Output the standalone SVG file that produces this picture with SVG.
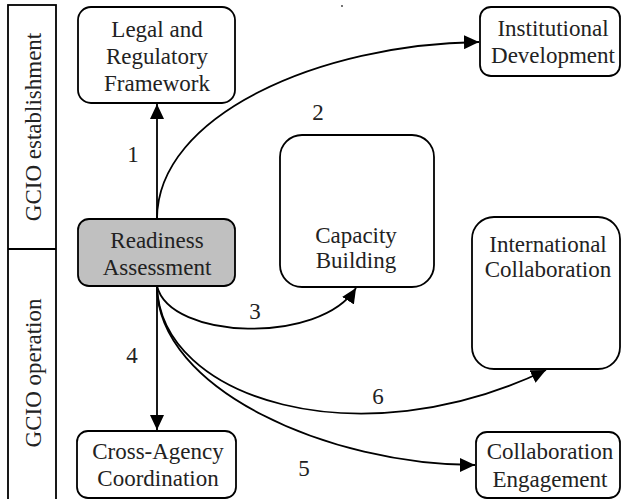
<svg xmlns="http://www.w3.org/2000/svg" width="622" height="499" viewBox="0 0 622 499">
<style>
text{font-family:'Liberation Serif','Times New Roman',serif;font-size:23px;fill:#222;text-anchor:middle}
.box{fill:#fff;stroke:#000;stroke-width:1.8}
.gray{fill:#c0c0c0}
.edge{fill:none;stroke:#000;stroke-width:1.8;marker-end:url(#arr)}
</style>
<defs>
<marker id="arr" markerUnits="userSpaceOnUse" markerWidth="16" markerHeight="14" viewBox="0 0 16 14" refX="15" refY="7" orient="auto">
<path d="M0,0 L15,7 L0,14 Z" fill="#000"/>
</marker>
</defs>
<rect width="622" height="499" fill="#fff"/>
<g id="band">
<rect x="8" y="5" width="48" height="500" fill="#fff" stroke="#000" stroke-width="1.8"/>
<line x1="8" y1="249" x2="56" y2="249" stroke="#000" stroke-width="1.8"/>
<text transform="translate(41,127) rotate(-90)">GCIO establishment</text>
<text transform="translate(41,373) rotate(-90)">GCIO operation</text>
</g>
<circle cx="342" cy="6" r="0.9" fill="#333"/>
<g id="connectors">
<path class="edge" d="M157,219 L157,104"/>
<path class="edge" d="M157,219 C157,115 320,44 479,42"/>
<path class="edge" d="M157,286 C170,340 320,345 356,288"/>
<path class="edge" d="M157,286 L157,430"/>
<path class="edge" d="M157,286 C157,390 330,465 475,465"/>
<path class="edge" d="M157,286 C160,400 360,460 546,370"/>
<text x="133" y="162">1</text>
<text x="318" y="120">2</text>
<text x="255" y="319">3</text>
<text x="132" y="363">4</text>
<text x="304" y="476">5</text>
<text x="378" y="404">6</text>
</g>
<g id="legal">
<rect class="box" x="78" y="7" width="157" height="96" rx="13"/>
<text x="157" y="37">Legal and</text>
<text x="157" y="64">Regulatory</text>
<text x="157" y="91">Framework</text>
</g>
<g id="institutional">
<rect class="box" x="480" y="7" width="140" height="69" rx="11"/>
<text x="553" y="36">Institutional</text>
<text x="553" y="63">Development</text>
</g>
<g id="capacity">
<rect class="box" x="280" y="135" width="154" height="152" rx="22"/>
<text x="356" y="243">Capacity</text>
<text x="356" y="268">Building</text>
</g>
<g id="international">
<rect class="box" x="472" y="217" width="148" height="152" rx="22"/>
<text x="548" y="252">International</text>
<text x="548" y="277">Collaboration</text>
</g>
<g id="readiness">
<rect class="box gray" x="78" y="219" width="157" height="67" rx="11"/>
<text x="157" y="248">Readiness</text>
<text x="157" y="275">Assessment</text>
</g>
<g id="crossagency">
<rect class="box" x="77" y="431" width="159" height="67" rx="11"/>
<text x="158" y="459">Cross-Agency</text>
<text x="158" y="486">Coordination</text>
</g>
<g id="engagement">
<rect class="box" x="476" y="432" width="144" height="66" rx="11"/>
<text x="550" y="459">Collaboration</text>
<text x="550" y="487">Engagement</text>
</g>
</svg>
